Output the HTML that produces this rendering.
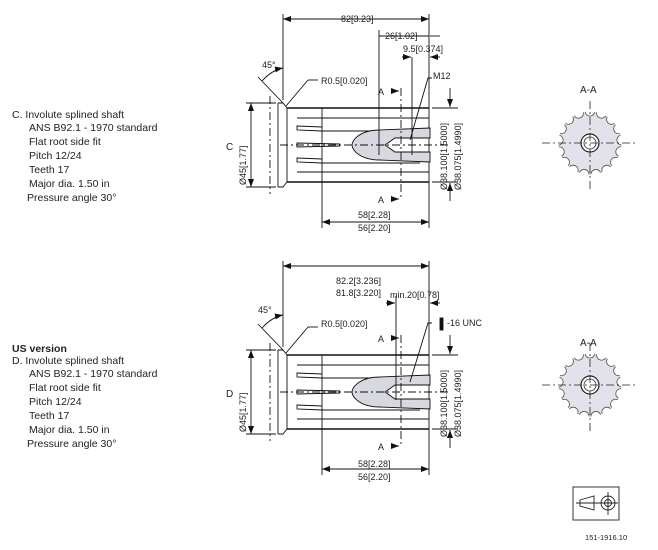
<!DOCTYPE html>
<html><head><meta charset="utf-8"><style>
html,body{margin:0;padding:0;background:#fff;}
svg{display:block;font-family:"Liberation Sans",sans-serif;}
text{fill:#222;}
</style></head><body>
<svg width="658" height="550" viewBox="0 0 658 550" xmlns="http://www.w3.org/2000/svg">
<defs>
<marker id="ar" markerWidth="8" markerHeight="6" refX="8" refY="3" orient="auto-start-reverse" markerUnits="userSpaceOnUse"><path d="M0,0 L8,3 L0,6z" fill="#111"/></marker>
<clipPath id="gc"><circle cx="0" cy="0" r="31.5"/></clipPath>
<g id="shaft" stroke="#111" fill="none" stroke-width="0.9">
  <line x1="283" y1="14" x2="283" y2="100"/>
  <path d="M278,103 L283,103 L287,108 L287,182 L283,187 L278,187"/>
  <line x1="278" y1="103" x2="278" y2="187"/>
  <line x1="270" y1="96" x2="270" y2="194" stroke-dasharray="8,3,2,3"/>
  <line x1="287" y1="108" x2="429" y2="108" stroke-width="1.4"/>
  <line x1="287" y1="182" x2="429" y2="182" stroke-width="1.4"/>
  <line x1="429" y1="108" x2="429" y2="182"/>
  <line x1="297" y1="118" x2="429" y2="118"/>
  <line x1="297" y1="172" x2="429" y2="172"/>
  <path d="M322,127 L297,126 L297,130 L322,131 L420,131"/>
  <path d="M322,159 L297,158 L297,162 L322,163 L420,163"/>
  <path d="M340,144 L297,143 L297,147 L340,146"/>
  <line x1="322" y1="108" x2="322" y2="228"/>
  <path d="M430,128 L380,130 C360,130 352,140 352,145 C352,150 360,160 380,160 L430,162 L430,152 L395,152 L385,145 L395,138 L430,138Z" fill="#d8d8e0"/>
  <line x1="280" y1="145" x2="450" y2="145" stroke-dasharray="8,3,2,3"/>
  <line x1="401" y1="88" x2="401" y2="200" stroke-dasharray="8,3,2,3"/>
  <line x1="283" y1="19" x2="429" y2="19" marker-start="url(#ar)" marker-end="url(#ar)"/>
  <line x1="429" y1="14" x2="429" y2="108"/>
  <line x1="251" y1="103" x2="251" y2="187" marker-start="url(#ar)" marker-end="url(#ar)"/>
  <line x1="246" y1="103" x2="276" y2="103"/><line x1="246" y1="187" x2="276" y2="187"/>
  <line x1="322" y1="222" x2="429" y2="222" marker-start="url(#ar)" marker-end="url(#ar)"/>
  <line x1="429" y1="182" x2="429" y2="228"/>
  <line x1="432" y1="108" x2="458" y2="108"/><line x1="432" y1="182" x2="458" y2="182"/>
  <line x1="450" y1="88" x2="450" y2="107" marker-end="url(#ar)"/>
  <line x1="450" y1="201" x2="450" y2="183" marker-end="url(#ar)"/>
  <line x1="283" y1="103" x2="258" y2="77"/>
  <path d="M262,81 Q272,70 283,68" marker-end="url(#ar)"/>
  <line x1="286" y1="106" x2="308" y2="80"/><line x1="308" y1="80" x2="318" y2="80"/>
  <line x1="392" y1="91" x2="399" y2="91" marker-end="url(#ar)"/>
  <line x1="392" y1="199" x2="399" y2="199" marker-end="url(#ar)"/>
</g>
<g id="gear">
  <circle cx="0" cy="0" r="31" fill="#e2e2ea"/>
  <g clip-path="url(#gc)">
  <g fill="#fff" stroke="#555" stroke-width="0.8" transform="rotate(-90)">
    <circle cx="32" cy="0" r="5"/><circle cx="29.84" cy="11.56" r="5"/><circle cx="23.65" cy="21.56" r="5"/>
    <circle cx="14.26" cy="28.65" r="5"/><circle cx="2.95" cy="31.86" r="5"/><circle cx="-8.76" cy="30.78" r="5"/>
    <circle cx="-19.28" cy="25.54" r="5"/><circle cx="-27.21" cy="16.84" r="5"/><circle cx="-31.46" cy="5.88" r="5"/>
    <circle cx="-31.46" cy="-5.88" r="5"/><circle cx="-27.21" cy="-16.84" r="5"/><circle cx="-19.28" cy="-25.54" r="5"/>
    <circle cx="-8.76" cy="-30.78" r="5"/><circle cx="2.95" cy="-31.86" r="5"/><circle cx="14.26" cy="-28.65" r="5"/>
    <circle cx="23.65" cy="-21.56" r="5"/><circle cx="29.84" cy="-11.56" r="5"/>
  </g>
  </g>
  <circle cx="0" cy="0" r="9" fill="#fff" stroke="#222" stroke-width="1.2"/>
  <circle cx="0" cy="0" r="6" fill="none" stroke="#222" stroke-width="0.8"/>
  <line x1="-48" y1="0" x2="48" y2="0" stroke="#222" stroke-width="0.8" stroke-dasharray="8,3,2,3"/>
  <line x1="0" y1="-42" x2="0" y2="48" stroke="#222" stroke-width="0.8" stroke-dasharray="8,3,2,3"/>
</g>
</defs>

<g font-size="10.5">
<text x="12" y="118">C.  Involute splined shaft</text>
<text x="29" y="131">ANS B92.1 - 1970 standard</text>
<text x="29" y="145">Flat root side fit</text>
<text x="29" y="159">Pitch 12/24</text>
<text x="29" y="173">Teeth 17</text>
<text x="29" y="187">Major dia. 1.50 in</text>
<text x="27" y="201">Pressure angle 30°</text>

<text x="12" y="352" font-weight="bold">US version</text>
<text x="12" y="364">D.  Involute splined shaft</text>
<text x="29" y="377">ANS B92.1 - 1970 standard</text>
<text x="29" y="391">Flat root side fit</text>
<text x="29" y="405">Pitch 12/24</text>
<text x="29" y="419">Teeth 17</text>
<text x="29" y="433">Major dia. 1.50 in</text>
<text x="27" y="447">Pressure angle 30°</text>
</g>

<use href="#shaft"/>
<g font-size="9">
<text x="226" y="150" font-size="10">C</text>
<text x="341" y="22">82[3.23]</text>
<text x="385" y="39">26[1.02]</text>
<text x="403" y="52">9.5[0.374]</text>
<text x="321" y="84">R0.5[0.020]</text>
<text x="262" y="68">45°</text>
<text x="433" y="79">M12</text>
<text x="378" y="95">A</text>
<text x="378" y="203">A</text>
<text x="358" y="218">58[2.28]</text>
<text x="358" y="231">56[2.20]</text>
<text transform="translate(246,185) rotate(-90)">Ø45[1.77]</text>
<text transform="translate(447,190) rotate(-90)">Ø38.100[1.5000]</text>
<text transform="translate(461,190) rotate(-90)">Ø38.075[1.4990]</text>
</g>
<g stroke="#111" stroke-width="0.9" fill="none">
<line x1="379" y1="36" x2="429" y2="36"/><line x1="379" y1="30" x2="379" y2="155"/>
<line x1="412" y1="57" x2="412" y2="155"/>
<line x1="402" y1="57" x2="411" y2="57" marker-end="url(#ar)"/>
<line x1="440" y1="57" x2="430" y2="57" marker-end="url(#ar)"/>
<line x1="430" y1="36" x2="440" y2="36"/>
<path d="M432,78 L428,78 L410,140"/>
</g>

<g transform="translate(0,247)">
<use href="#shaft"/>
</g>
<g font-size="9">
<text x="226" y="397" font-size="10">D</text>
<text x="336" y="284">82.2[3.236]</text>
<text x="336" y="296">81.8[3.220]</text>
<text x="390" y="298">min.20[0.78]</text>
<text x="321" y="327">R0.5[0.020]</text>
<text x="258" y="313">45°</text>
<text x="447" y="326">-16 UNC</text>
<text x="378" y="342">A</text>
<text x="378" y="450">A</text>
<text x="358" y="467">58[2.28]</text>
<text x="358" y="480">56[2.20]</text>
<text transform="translate(246,432) rotate(-90)">Ø45[1.77]</text>
<text transform="translate(447,437) rotate(-90)">Ø38.100[1.5000]</text>
<text transform="translate(461,437) rotate(-90)">Ø38.075[1.4990]</text>
</g>
<g stroke="#111" stroke-width="0.9" fill="none">
<line x1="396" y1="296" x2="396" y2="400"/>
<line x1="386" y1="303" x2="395" y2="303" marker-end="url(#ar)"/>
<line x1="440" y1="303" x2="430" y2="303" marker-end="url(#ar)"/>
<path d="M432,323 L428,323 L410,382"/>
<rect x="440" y="318" width="3" height="12" fill="#111"/>
</g>

<text x="580" y="93" font-size="10">A-A</text>
<g transform="translate(590,143)"><use href="#gear"/></g>
<text x="580" y="346" font-size="10">A-A</text>
<g transform="translate(590,385)"><use href="#gear"/></g>

<g stroke="#222" stroke-width="0.9" fill="none">
<rect x="573" y="487" width="46" height="33"/>
<path d="M580,500 L594,496 L594,510 L580,506Z"/>
<circle cx="608" cy="503" r="7"/><circle cx="608" cy="503" r="3.5"/>
<line x1="576" y1="503" x2="618" y2="503"/><line x1="608" y1="492" x2="608" y2="515"/>
</g>
<text x="585" y="540" font-size="7.5">151-1916.10</text>
</svg>
</body></html>
